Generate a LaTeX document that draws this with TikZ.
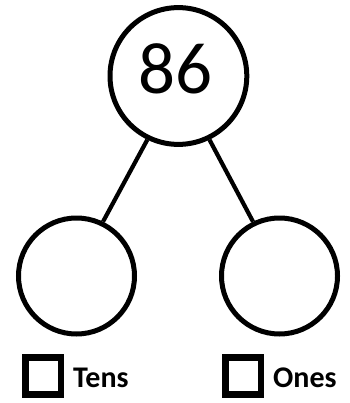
\documentclass[tikz,border=0pt]{standalone}
\usepackage{fontspec}
\setmainfont{Carlito}
\begin{document}
\begin{tikzpicture}[x=1pt,y=-1pt,
  ring/.style={circle,draw=black,line width=5pt,inner sep=0pt},
  tick/.style={draw=black,line width=6.5pt,minimum width=35.7pt,minimum height=37.4pt,inner sep=0pt},
  lbl/.style={anchor=base west,inner sep=0pt,font=\fontsize{30}{30}\selectfont\bfseries},
  link/.style={draw=black,line width=4.2pt}]
\useasboundingbox (0,0) rectangle (349,403);
\node[ring,minimum size=136.8pt] (top) at (178.4,76) {};
\node[anchor=base,inner sep=0pt,font=\fontsize{73}{73}\selectfont] (num) at (175.5,94) {86};
\node[ring,minimum size=116pt] (l) at (76.5,276) {};
\node[ring,minimum size=116pt] (r) at (279.5,276) {};
\draw[link] (top.244) -- (l.64);
\draw[link] (top.296) -- (r.116);
\node[tick] (bt) at (43.2,376) {};
\node[lbl] (tt) at (73,387) {Tens};
\node[tick] (bo) at (243.2,376) {};
\node[lbl] (to) at (273,387) {Ones};
\end{tikzpicture}
\end{document}
